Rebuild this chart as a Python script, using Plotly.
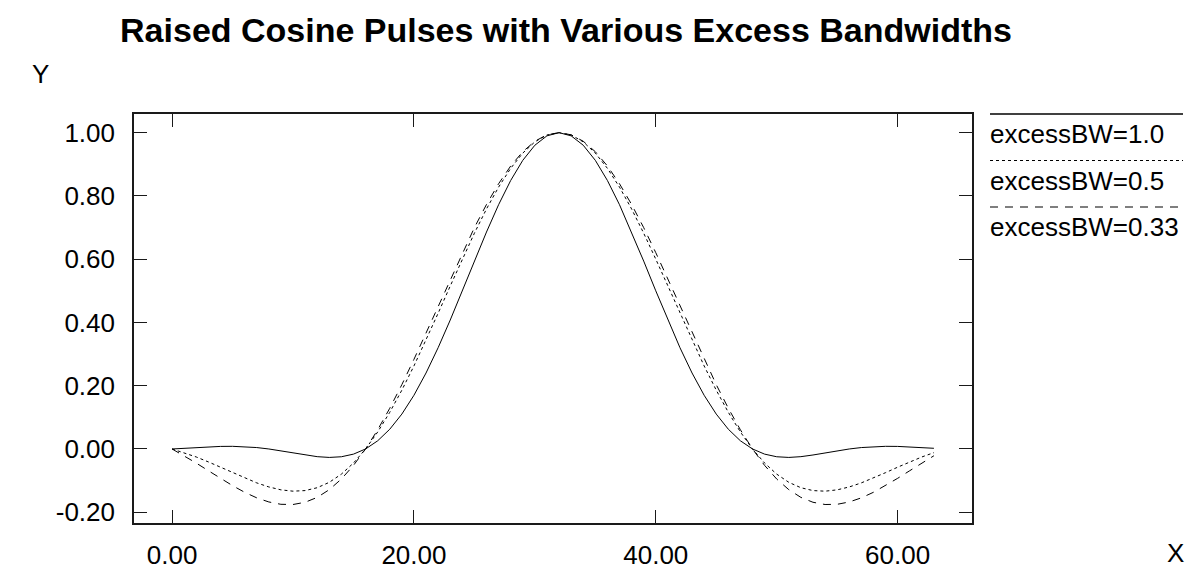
import plotly.graph_objects as go

# ---------------- data ----------------
x_values = list(range(64))

bw_1_0 = [0.0, 0.0022, 0.0046, 0.0067, 0.0081, 0.0084, 0.0072, 0.0045, 0.0, -0.0058,
          -0.0125, -0.0190, -0.0243, -0.0267, -0.0246, -0.0163, 0.0, 0.0258, 0.0624, 0.1103,
          0.1698, 0.2402, 0.3201, 0.4076, 0.5, 0.5940, 0.6859, 0.7722, 0.8488, 0.9125,
          0.9603, 0.9900, 1.0, 0.9900, 0.9603, 0.9125, 0.8488, 0.7722, 0.6859, 0.5940,
          0.5, 0.4076, 0.3201, 0.2402, 0.1698, 0.1103, 0.0624, 0.0258, 0.0, -0.0163,
          -0.0246, -0.0267, -0.0243, -0.0190, -0.0125, -0.0058, 0.0, 0.0045, 0.0072, 0.0084,
          0.0081, 0.0067, 0.0046, 0.0022]

bw_0_5 = [0.0, -0.0116, -0.0253, -0.0409, -0.0576, -0.0749, -0.0917, -0.1072, -0.1200, -0.1292,
          -0.1334, -0.1315, -0.1225, -0.1054, -0.0795, -0.0445, 0.0, 0.0536, 0.1159, 0.1859,
          0.2625, 0.3441, 0.4290, 0.5151, 0.6002, 0.6822, 0.7588, 0.8278, 0.8872, 0.9354,
          0.9710, 0.9927, 1.0, 0.9927, 0.9710, 0.9354, 0.8872, 0.8278, 0.7588, 0.6822,
          0.6002, 0.5151, 0.4290, 0.3441, 0.2625, 0.1859, 0.1159, 0.0536, 0.0, -0.0445,
          -0.0795, -0.1054, -0.1225, -0.1315, -0.1334, -0.1292, -0.1200, -0.1072, -0.0917, -0.0749,
          -0.0576, -0.0409, -0.0253, -0.0116]

bw_0_33 = [0.0, -0.0214, -0.0446, -0.0687, -0.0928, -0.1159, -0.1369, -0.1545, -0.1675, -0.1749,
           -0.1755, -0.1685, -0.1530, -0.1286, -0.0950, -0.0520, 0.0, 0.0605, 0.1287, 0.2034,
           0.2833, 0.3668, 0.4521, 0.5373, 0.6206, 0.6998, 0.7730, 0.8385, 0.8946, 0.9398,
           0.9729, 0.9932, 1.0, 0.9932, 0.9729, 0.9398, 0.8946, 0.8385, 0.7730, 0.6998,
           0.6206, 0.5373, 0.4521, 0.3668, 0.2833, 0.2034, 0.1287, 0.0605, 0.0, -0.0520,
           -0.0950, -0.1286, -0.1530, -0.1685, -0.1755, -0.1749, -0.1675, -0.1545, -0.1369, -0.1159,
           -0.0928, -0.0687, -0.0446, -0.0214]

series_names = ["excessBW=1.0", "excessBW=0.5", "excessBW=0.33"]

x_tick_vals = [0, 20, 40, 60]
x_tick_text = ["0.00", "20.00", "40.00", "60.00"]
y_tick_vals = [-0.2, 0.0, 0.2, 0.4, 0.6, 0.8, 1.0]
y_tick_text = ["-0.20", "0.00", "0.20", "0.40", "0.60", "0.80", "1.00"]

title_text = "Raised Cosine Pulses with Various Excess Bandwidths"
x_title = "X"
y_title = "Y"

# ---------------- layout geometry ----------------
W, H = 1188, 574
L, R, T, B = 134, 216, 114, 51
PW, PH = W - L - R, H - T - B
FONT = "Liberation Sans, Arial, sans-serif"
INK = "#000000"
FS = 26


def px(xp):
    return (xp - L) / PW


def py(yp):
    return (H - B - yp) / PH


dashes = ["solid", "3px,3px", "8px,7px"]
series = [bw_1_0, bw_0_5, bw_0_33]

fig = go.Figure()
for name, ys, dash in zip(series_names, series, dashes):
    fig.add_trace(go.Scatter(
        x=x_values, y=ys, mode="lines", name=name, showlegend=False,
        line=dict(color=INK, width=1, dash=dash), hoverinfo="skip"))

axis_common = dict(
    showgrid=False, zeroline=False, showline=True, linecolor="#1a1a1a", linewidth=1.6,
    mirror="ticks", ticks="inside", ticklen=13, tickwidth=1.2, tickcolor="#1a1a1a",
    tickfont=dict(family=FONT, size=FS, color=INK), automargin=False,
)

fig.update_xaxes(range=[-3.15, 66.15], tickmode="array", tickvals=x_tick_vals,
                 ticktext=x_tick_text, ticklabelstandoff=8, **axis_common)
fig.update_yaxes(range=[-0.234, 1.059], tickmode="array", tickvals=y_tick_vals,
                 ticktext=y_tick_text, ticklabelstandoff=12, **axis_common)

shapes = []
annotations = []
for i, (name, dash) in enumerate(zip(series_names, dashes)):
    yl = 114 + 46.5 * i
    shapes.append(dict(type="line", xref="paper", yref="paper",
                       x0=px(990), x1=px(1183), y0=py(yl), y1=py(yl),
                       line=dict(color=INK, width=1.5 if i == 0 else 1.2, dash=dash)))
    annotations.append(dict(xref="paper", yref="paper", x=px(988), y=py(yl + 20),
                            xanchor="left", yanchor="middle", showarrow=False,
                            text=name, font=dict(family=FONT, size=FS, color=INK)))

annotations.append(dict(xref="paper", yref="paper", x=px(40), y=py(74),
                        xanchor="center", yanchor="middle", showarrow=False,
                        text=y_title, font=dict(family=FONT, size=FS, color=INK)))
annotations.append(dict(xref="paper", yref="paper", x=px(1175), y=py(553),
                        xanchor="center", yanchor="middle", showarrow=False,
                        text=x_title, font=dict(family=FONT, size=FS, color=INK)))

fig.update_layout(
    width=W, height=H,
    margin=dict(l=L, r=R, t=T, b=B, pad=0, autoexpand=False),
    paper_bgcolor="white", plot_bgcolor="white",
    title=dict(text=title_text, x=566 / W, xanchor="center", y=1 - 30 / H, yanchor="middle",
               font=dict(family=FONT, size=34, color=INK, weight="bold")),
    shapes=shapes, annotations=annotations,
    showlegend=False,
)

fig.write_html("out.html", config={"displayModeBar": False},
               post_script="document.body.style.margin='0px';")
